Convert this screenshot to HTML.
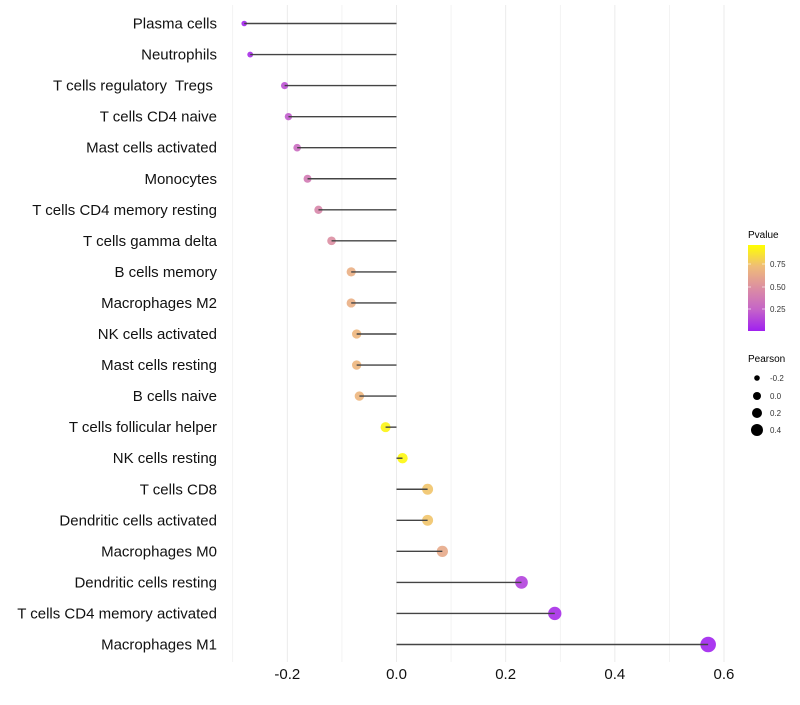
<!DOCTYPE html>
<html><head><meta charset="utf-8"><style>
body{margin:0;background:#fff;font-family:"Liberation Sans",sans-serif}
svg text{font-family:"Liberation Sans",sans-serif;white-space:pre}
</style></head><body>
<svg id="chart" width="800" height="700" xmlns="http://www.w3.org/2000/svg">
<defs><linearGradient id="pg" x1="0" y1="1" x2="0" y2="0">
<stop offset="0" stop-color="#A020F0"/><stop offset="0.25" stop-color="#C564C8"/><stop offset="0.5" stop-color="#DC8EA2"/><stop offset="0.75" stop-color="#EFBC78"/><stop offset="1" stop-color="#FFFF00"/></linearGradient></defs>
<g id="grid"></g>
<g id="marks"></g>
<g id="ylabels"></g>
<g id="xlabels"></g>
<g>
<text x="748" y="238" font-size="10" fill="#000">Pvalue</text>
<rect x="748" y="245" width="17" height="86" fill="url(#pg)"/>
<line x1="748" y1="264" x2="751" y2="264" stroke="#fff" stroke-opacity="0.6"/><line x1="762" y1="264" x2="765" y2="264" stroke="#fff" stroke-opacity="0.6"/>
<line x1="748" y1="287" x2="751" y2="287" stroke="#fff" stroke-opacity="0.6"/><line x1="762" y1="287" x2="765" y2="287" stroke="#fff" stroke-opacity="0.6"/>
<line x1="748" y1="309" x2="751" y2="309" stroke="#fff" stroke-opacity="0.6"/><line x1="762" y1="309" x2="765" y2="309" stroke="#fff" stroke-opacity="0.6"/>
<text x="770" y="267" font-size="8" fill="#333">0.75</text>
<text x="770" y="290" font-size="8" fill="#333">0.50</text>
<text x="770" y="312" font-size="8" fill="#333">0.25</text>
</g>
<g>
<text x="748" y="362" font-size="10" fill="#000">Pearson</text>
<circle cx="757" cy="378" r="2.8" fill="#000"/><text x="770" y="381" font-size="8" fill="#333">-0.2</text>
<circle cx="757" cy="396" r="4" fill="#000"/><text x="770" y="399" font-size="8" fill="#333">0.0</text>
<circle cx="757" cy="413" r="5" fill="#000"/><text x="770" y="416" font-size="8" fill="#333">0.2</text>
<circle cx="757" cy="430" r="6" fill="#000"/><text x="770" y="433" font-size="8" fill="#333">0.4</text>
</g>
</svg>
<script>
const categories=["Plasma cells","Neutrophils","T cells regulatory  Tregs ","T cells CD4 naive","Mast cells activated","Monocytes","T cells CD4 memory resting","T cells gamma delta","B cells memory","Macrophages M2","NK cells activated","Mast cells resting","B cells naive","T cells follicular helper","NK cells resting","T cells CD8","Dendritic cells activated","Macrophages M0","Dendritic cells resting","T cells CD4 memory activated","Macrophages M1"];
const pearson=[-0.279,-0.268,-0.205,-0.198,-0.182,-0.163,-0.143,-0.119,-0.083,-0.083,-0.073,-0.073,-0.068,-0.020,0.011,0.057,0.057,0.084,0.229,0.290,0.571];
const pvalues=[0.02,0.05,0.18,0.22,0.30,0.38,0.45,0.50,0.68,0.68,0.72,0.72,0.72,0.96,0.97,0.78,0.78,0.65,0.12,0.05,0.01];
const xTicks=[-0.2,0.0,0.2,0.4,0.6];
const xTickLabels=["-0.2","0.0","0.2","0.4","0.6"];
const xMinor=[-0.3,-0.1,0.1,0.3,0.5];
const NS="http://www.w3.org/2000/svg";
const x=v=>396.5+v*545.8;
const y=i=>23.5+i*31.05;
const stops=[[0,[160,32,240]],[0.25,[197,100,200]],[0.5,[220,142,162]],[0.75,[239,188,120]],[1,[255,255,0]]];
function col(p){for(let k=1;k<stops.length;k++){if(p<=stops[k][0]){const a=stops[k-1],b=stops[k];const t=(p-a[0])/(b[0]-a[0]);return "rgb("+a[1].map((c,j)=>Math.round(c+(b[1][j]-c)*t)).join(",")+")";}}return "rgb(255,255,0)";}
const rad=v=>0.8+Math.sqrt(Math.max(2,18.8+52.9*v));
function mk(t,a,p){const e=document.createElementNS(NS,t);for(const k in a)e.setAttribute(k,a[k]);p.appendChild(e);return e;}
const grid=document.getElementById('grid'),marks=document.getElementById('marks'),yl=document.getElementById('ylabels'),xl=document.getElementById('xlabels');
xMinor.concat(xTicks).forEach(v=>{const l=mk('line',{x1:x(v),x2:x(v),y1:5,y2:662,stroke:'#ebebeb','stroke-width':xTicks.includes(v)?1:0.6},grid);

});
xTicks.forEach((v,i)=>{const t=mk('text',{x:x(v),y:679,'text-anchor':'middle','font-size':15,fill:'#111'},xl);t.textContent=xTickLabels[i];

});
categories.forEach((c,i)=>{const t=mk('text',{x:217,y:y(i)+5,'text-anchor':'end','font-size':15,fill:'#111'},yl);t.textContent=c;


const cc=mk('circle',{cx:x(pearson[i]),cy:y(i),r:rad(pearson[i]),fill:col(pvalues[i]),'fill-opacity':0.9},marks);


const l=mk('line',{x1:x(0),x2:x(pearson[i]),y1:y(i),y2:y(i),stroke:'#444','stroke-width':1.4},marks);

});
</script>
</body></html>
